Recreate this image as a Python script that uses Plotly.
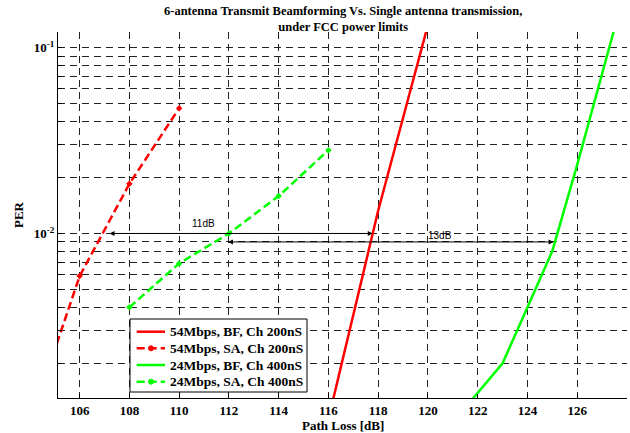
import numpy as np
import plotly.graph_objects as go

# ---- data ----
bf54_x = [116, 117, 118, 119, 120]
bf54_per = [1.0e-3, 3.7e-3, 1.33e-2, 4.2e-2, 1.33e-1]

sa54_x = [104, 106, 108, 110]
sa54_per = [9.5e-4, 5.9e-3, 1.85e-2, 4.73e-2]

bf24_x = [121, 123, 124, 125, 126, 127, 128]
bf24_per = [9.6e-4, 2.0e-3, 4.0e-3, 8.05e-3, 2.35e-2, 7.25e-2, 2.24e-1]

sa24_x = [108, 110, 112, 114, 116]
sa24_per = [4.0e-3, 6.9e-3, 1.0e-2, 1.59e-2, 2.81e-2]

x_ticks = [106, 108, 110, 112, 114, 116, 118, 120, 122, 124, 126]
y_ticks = [1e-2, 1e-1]
y_ticktext = ["10<sup>-2</sup>", "10<sup>-1</sup>"]
y_minor = [k * 1e-3 for k in range(2, 10)] + [k * 1e-2 for k in range(2, 10)]

names = ["54Mbps, BF, Ch 200nS", "54Mbps, SA, Ch 200nS",
         "24Mbps, BF, Ch 400nS", "24Mbps, SA, Ch 400nS"]

# gap annotations
arrow1 = dict(x0=107.14, x1=117.78, y=1e-2, label="11dB", lx=110.96, ly=1.13e-2)
arrow2 = dict(x0=111.9, x1=125.05, y=9.0e-3, label="13dB", lx=120.5, ly=9.7e-3)

SERIF = "Liberation Serif"
RED = "#ff0000"
GREEN = "#00ff00"
colors = [RED, RED, GREEN, GREEN]
dashed = [False, True, False, True]
DASH = "8px,4px"

fig = go.Figure()
series = [(bf54_x, bf54_per), (sa54_x, sa54_per), (bf24_x, bf24_per), (sa24_x, sa24_per)]
for (xs, ys), nm, c, d in zip(series, names, colors, dashed):
    if d:
        fig.add_trace(go.Scatter(x=xs, y=ys, mode="lines+markers", name=nm,
                                 line=dict(color=c, width=2.5, dash=DASH),
                                 marker=dict(size=5, color=c, symbol="diamond")))
    else:
        fig.add_trace(go.Scatter(x=xs, y=ys, mode="lines", name=nm,
                                 line=dict(color=c, width=2.5)))

grid = dict(showgrid=True, gridcolor="#222222", gridwidth=1, griddash="7px,5px")

fig.update_xaxes(range=[105.13, 128.0], tickvals=x_ticks,
                 ticktext=["<b>%d</b>" % v for v in x_ticks],
                 ticks="inside", ticklen=4, tickcolor="black",
                 showline=True, linecolor="black", linewidth=1, zeroline=False,
                 tickfont=dict(family=SERIF, size=13, color="black"),
                 **grid)
fig.update_yaxes(type="log", range=[np.log10(1.30e-3), np.log10(0.1216)],
                 tickvals=y_ticks, ticktext=["<b>" + t + "</b>" for t in y_ticktext],
                 ticks="inside", ticklen=4, tickcolor="black",
                 showline=True, linecolor="black", linewidth=1, zeroline=False,
                 tickfont=dict(family=SERIF, size=13, color="black"),
                 minor=dict(tickvals=y_minor, ticks="inside", ticklen=4, tickcolor="black",
                            showgrid=True, gridcolor="#222222", gridwidth=1, griddash="7px,5px"),
                 **grid)

# plot-area geometry (pixels) for placing the legend box
ML, MT, MR, MB = 58, 32, 3, 35
W, H = 630 - ML - MR, 433 - MT - MB


def px(xp):
    return (xp - ML) / W


def py(yp):
    return (433 - MB - yp) / H


anns = []
for a in (arrow1, arrow2):
    ly = np.log10(a["y"])
    anns.append(dict(x=a["x1"], y=ly, ax=a["x0"], ay=ly,
                     xref="x", yref="y", axref="x", ayref="y", text="",
                     showarrow=True, arrowhead=2, startarrowhead=2, arrowside="end+start",
                     arrowsize=1, startarrowsize=1, arrowwidth=1, arrowcolor="black"))
    anns.append(dict(x=a["lx"], y=np.log10(a["ly"]), xref="x", yref="y", text=a["label"],
                     xanchor="center", yanchor="middle",
                     showarrow=False, font=dict(family="Liberation Sans", size=10, color="black")))

anns += [
    dict(x=0.5, y=py(19), xref="paper", yref="paper", showarrow=False,
         xanchor="center", yanchor="middle",
         text="<b>6-antenna Transmit Beamforming Vs. Single antenna transmission,</b><br>"
              "<b>under FCC power limits</b>",
         font=dict(family=SERIF, size=12.5, color="black")),
    dict(x=px(18), y=0.5, xref="paper", yref="paper", showarrow=False, textangle=-90,
         xanchor="center", yanchor="middle",
         text="<b>PER</b>", font=dict(family=SERIF, size=13, color="black")),
    dict(x=0.5, y=py(425), xref="paper", yref="paper", showarrow=False,
         xanchor="center", yanchor="middle",
         text="<b>Path Loss [dB]</b>", font=dict(family=SERIF, size=13, color="black")),
]

# legend box drawn as shapes + text
shapes = [dict(type="rect", xref="paper", yref="paper",
               x0=px(130), x1=px(307), y0=py(392), y1=py(319),
               fillcolor="white", line=dict(color="black", width=1), layer="above")]
row_y = [331.7, 348.3, 365.0, 381.7]
for nm, c, d, ry in zip(names, colors, dashed, row_y):
    shapes.append(dict(type="line", xref="paper", yref="paper",
                       x0=px(136.7), x1=px(165), y0=py(ry), y1=py(ry),
                       line=dict(color=c, width=2.5, dash=DASH if d else "solid"),
                       layer="above"))
    if d:
        shapes.append(dict(type="circle", xref="paper", yref="paper",
                           x0=px(148.5), x1=px(153.5), y0=py(ry + 2.5), y1=py(ry - 2.5),
                           fillcolor=c, line=dict(color=c, width=1), layer="above"))
    anns.append(dict(x=px(168.3), y=py(ry), xref="paper", yref="paper", showarrow=False,
                     xanchor="left", yanchor="middle", text="<b>" + nm + "</b>",
                     font=dict(family=SERIF, size=13.5, color="black")))

fig.update_layout(
    width=630, height=433,
    margin=dict(l=ML, r=MR, t=MT, b=MB, autoexpand=False),
    plot_bgcolor="white", paper_bgcolor="white",
    annotations=anns, shapes=shapes,
    showlegend=False,
)

fig.write_html("out.html", config={"displayModeBar": False},
               post_script="document.body.style.margin='0px';")
